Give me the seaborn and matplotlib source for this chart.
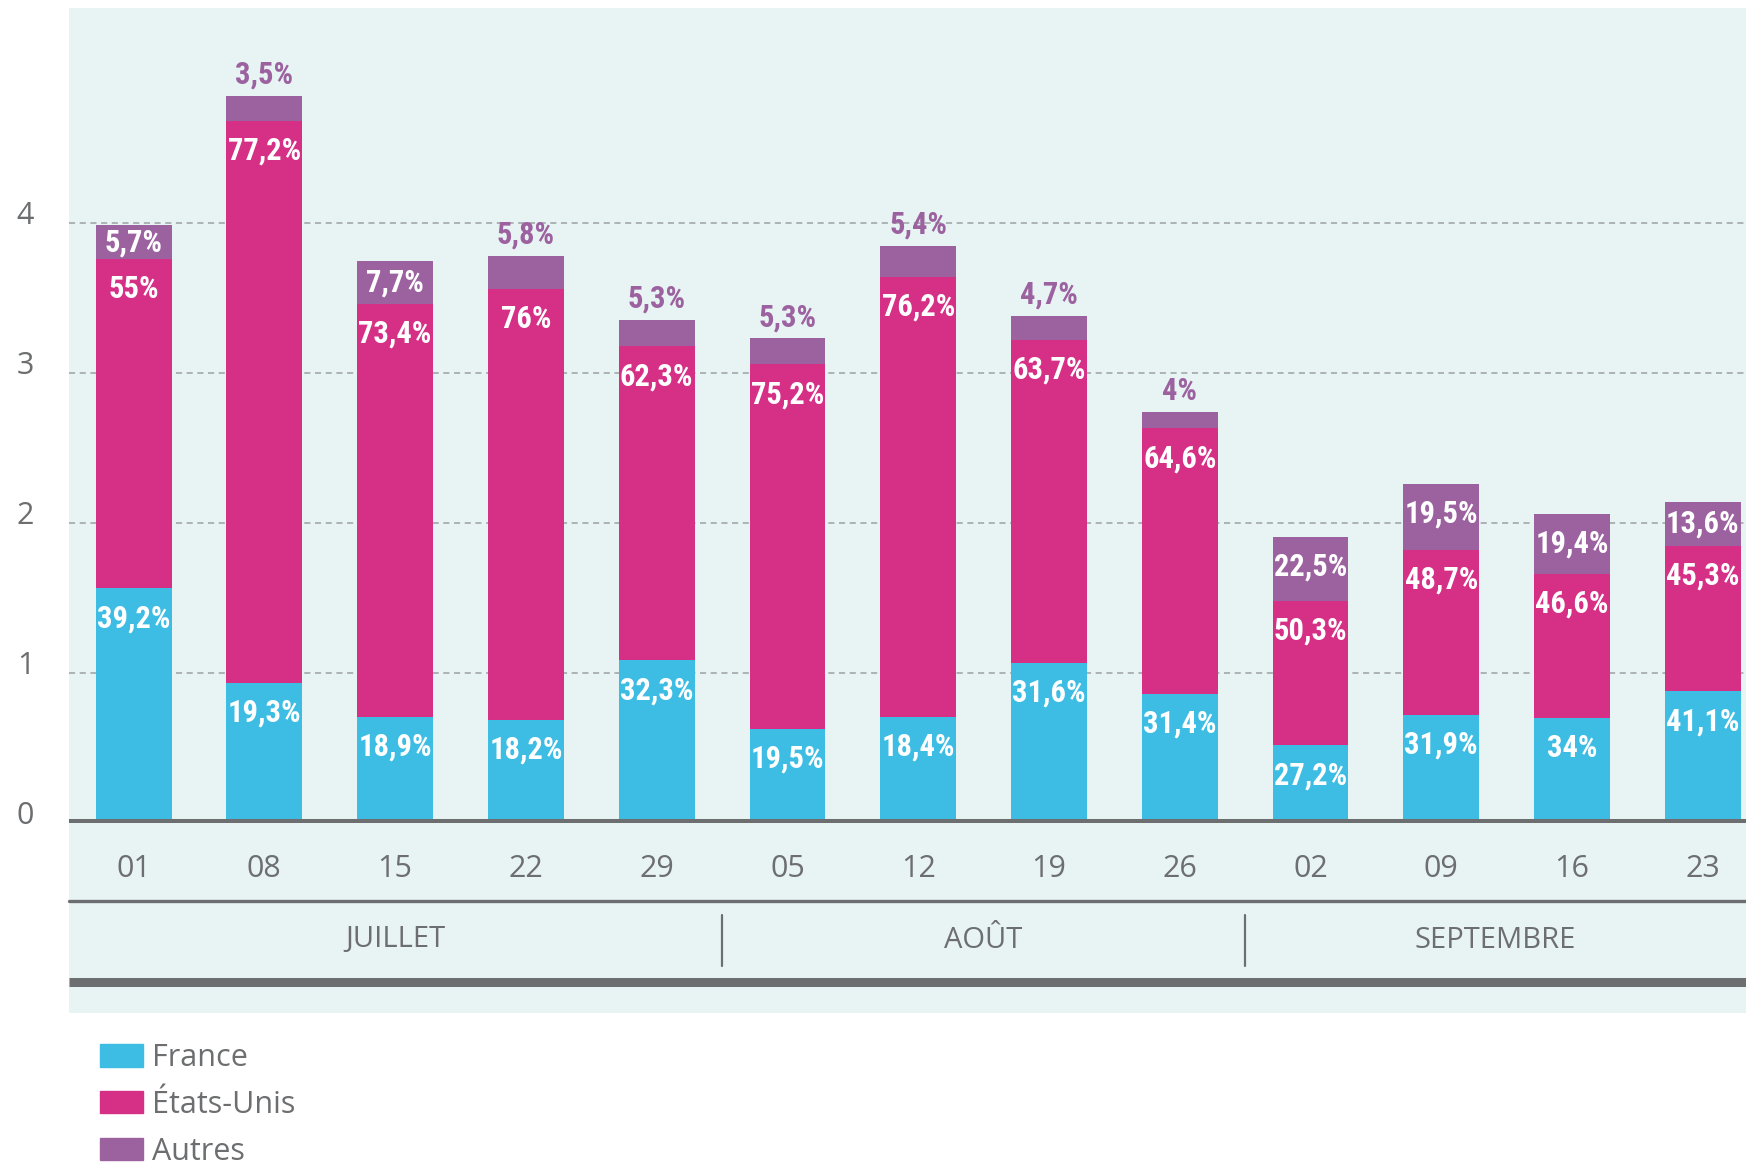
import pandas as pd
import seaborn as sns
import matplotlib.pyplot as plt
from matplotlib import font_manager
from matplotlib.patches import Patch, Rectangle
from matplotlib.transforms import ScaledTranslation

# weekly totals (left axis units) and share of each origin, in %
semaines = ['01', '08', '15', '22', '29', '05', '12', '19', '26', '02', '09', '16', '23']
totaux = [3.99, 4.85, 3.75, 3.78, 3.36, 3.23, 3.85, 3.38, 2.74, 1.91, 2.26, 2.06, 2.14]
france = [39.2, 19.3, 18.9, 18.2, 32.3, 19.5, 18.4, 31.6, 31.4, 27.2, 31.9, 34, 41.1]
etats_unis = [55, 77.2, 73.4, 76, 62.3, 75.2, 76.2, 63.7, 64.6, 50.3, 48.7, 46.6, 45.3]
autres = [5.7, 3.5, 7.7, 5.8, 5.3, 5.3, 5.4, 4.7, 4, 22.5, 19.5, 19.4, 13.6]
mois = ['JUILLET', 'AOÛT', 'SEPTEMBRE']

C_FR = '#3dbde3'
C_US = '#d62f86'
C_AU = '#9c62a0'
GRIS = '#6d6e70'
FOND = '#e8f4f4'

sns.set_theme(style='white')
plt.rcParams['font.family'] = ['Open Sans', 'DejaVu Sans']


# condensed face for the % labels, whichever is installed
def pick_font(cands):
    for c in cands:
        try:
            font_manager.findfont(font_manager.FontProperties(family=c, weight='bold'),
                                  fallback_to_default=False)
            return c
        except Exception:
            pass
    return 'DejaVu Sans'


LABEL_FONT = [pick_font(['Roboto Condensed', 'Liberation Sans Narrow', 'DejaVu Sans Condensed',
                         'Open Sans Condensed', 'Noto Sans Display']), 'DejaVu Sans']
narrow = LABEL_FONT[0] != 'DejaVu Sans'
LSIZE = 22 if narrow else 16

df = pd.DataFrame({'semaine': semaines, 'total': totaux,
                   'france': france, 'eu': etats_unis, 'autres': autres})
df['h_fr'] = df['total'] * df['france'] / 100
df['h_us'] = df['total'] * df['eu'] / 100
df['h_au'] = df['total'] * df['autres'] / 100
df['c_fr'] = df['h_fr']
df['c_us'] = df['h_fr'] + df['h_us']
df['c_au'] = df['c_us'] + df['h_au']

fig = plt.figure(figsize=(17.46, 11.69), dpi=100)
ax = fig.add_axes([69 / 1746, (1169 - 823) / 1169, 1 - 69 / 1746, 815 / 1169])
ax.set_facecolor('none')

# light background panel behind the chart and the date rows
fig.patches.append(Rectangle((69 / 1746, (1169 - 1013) / 1169), 1 - 69 / 1746, 1005 / 1169,
                             transform=fig.transFigure, facecolor=FOND, edgecolor='none', zorder=-1))

w = 0.58
for col, c in [('c_au', C_AU), ('c_us', C_US), ('c_fr', C_FR)]:
    sns.barplot(data=df, x='semaine', y=col, color=c, width=w, saturation=1,
                errorbar=None, linewidth=0, ax=ax)

ax.set_xlim(-0.494, 12.33)
ax.set_ylim(0, 815 / 150)
ax.set_yticks([0, 1, 2, 3, 4])
ax.yaxis.grid(True, linestyle=(0, (4, 3)), color='#9da1a3', linewidth=1.1)
ax.set_axisbelow(True)
for s in ax.spines.values():
    s.set_visible(False)
ax.axhline(0, color=GRIS, lw=6.5, zorder=5)
ax.tick_params(axis='y', length=0, pad=25, labelsize=22, labelcolor=GRIS)
ax.tick_params(axis='x', length=0, pad=22, labelsize=22, labelcolor=GRIS)
for lab in ax.get_yticklabels():
    lab.set_transform(lab.get_transform() + ScaledTranslation(0, 0.11, fig.dpi_scale_trans))
ax.set_xlabel('')
ax.set_ylabel('')


def fmt(v):
    return f'{v:g}'.replace('.', ',') + '%'


off = 0.2
kw = dict(ha='center', va='center', fontsize=LSIZE, fontweight='bold', family=LABEL_FONT, zorder=6)
for i, r in df.iterrows():
    ax.text(i, r['c_fr'] - min(off, r['h_fr'] / 2), fmt(r['france']), color='white', **kw)
    ax.text(i, r['c_us'] - min(off, r['h_us'] / 2), fmt(r['eu']), color='white', **kw)
    # Autres: inside when the segment is tall enough, above otherwise
    if r['h_au'] > 0.225:
        ax.text(i, r['c_au'] - min(off, r['h_au'] / 2), fmt(r['autres']), color='white', **kw)
    else:
        ax.text(i, r['c_au'] + 0.14, fmt(r['autres']), color=C_AU, **kw)

# month row under the dates
ax.plot([-0.494, 12.33], [-0.52, -0.52], color=GRIS, lw=2.4, clip_on=False)
ax.plot([-0.494, 12.33], [-1.06, -1.06], color=GRIS, lw=6.5, clip_on=False, solid_capstyle='butt')
bords = [-0.494, 4.5, 8.5, 12.33]
for k, m in enumerate(mois):
    ax.text((bords[k] + bords[k + 1]) / 2, -0.78, m, ha='center', va='center',
            fontsize=21, color=GRIS, clip_on=False)
for xb in bords[1:3]:
    ax.plot([xb, xb], [-0.613, -0.953], color=GRIS, lw=1.6, clip_on=False)

handles = [Patch(color=C_FR, label='France'), Patch(color=C_US, label='États-Unis'),
           Patch(color=C_AU, label='Autres')]
fig.legend(handles=handles, loc='upper left', bbox_to_anchor=(100 / 1746, 1 - 1043 / 1169),
           frameon=False, fontsize=22, labelcolor=GRIS, handlelength=1.4, handleheight=0.75,
           handletextpad=0.3, labelspacing=0.55, borderpad=0, borderaxespad=0)

fig.savefig('out.png', dpi=100)
